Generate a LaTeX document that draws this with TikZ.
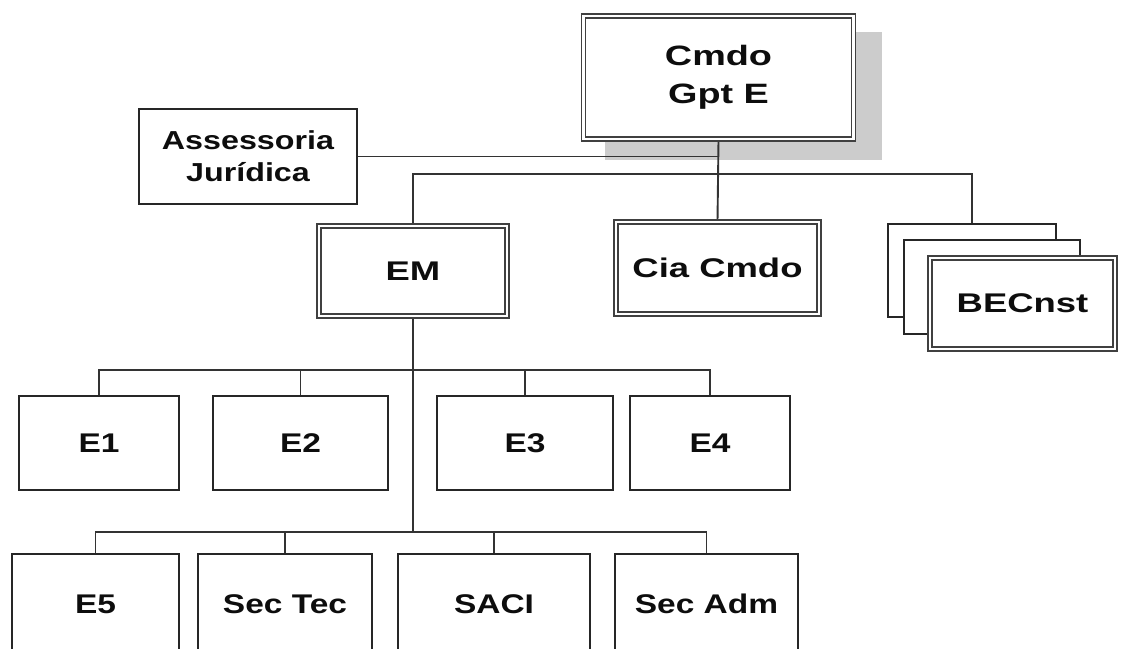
\documentclass[tikz,border=0pt]{standalone}
\usepackage{fontspec}
\setmainfont{Liberation Sans}
\newfontfamily\topf[FakeStretch=1.35]{Liberation Sans}
\newfontfamily\lowf[FakeStretch=1.24]{Liberation Sans}
\pgfdeclarelayer{shadowlayer}
\pgfdeclarelayer{linelayer}
\pgfsetlayers{shadowlayer,linelayer,main}
\begin{document}
\begin{tikzpicture}[x=1pt,y=-1pt,
  sbox/.style={draw=black!85, line width=2.2pt, fill=white, inner sep=0pt,
    font=\lowf\bfseries\fontsize{27}{32}\selectfont, text=black!95, align=center},
  dbox/.style={draw=black!75, line width=1.7pt, double=white, double distance=2.4pt,
    fill=white, inner sep=0pt, font=\topf\bfseries\fontsize{27}{38}\selectfont,
    text=black!95, align=center},
  conn/.style={draw=black!80, line width=1.9pt}]
\useasboundingbox (0,0) rectangle (1121,648);

% shadow of the top box
\begin{pgfonlayer}{shadowlayer}
\fill[white] (0,0) rectangle (1121,648);
\fill[black!20] (605,32) rectangle (882,160);
\end{pgfonlayer}

% boxes
\node[dbox, minimum width=270pt, minimum height=123pt, font=\topf\bfseries\fontsize{28}{38}\selectfont] (cmdo) at (718.5,77.5) {Cmdo\\Gpt E};
\node[sbox, minimum width=218pt, minimum height=95pt, font=\lowf\bfseries\fontsize{26}{32}\selectfont] (assess) at (248,156.5) {Assessoria\\Jurídica};
\node[dbox, minimum width=188pt, minimum height=90pt] (em) at (413,271) {EM};
\node[dbox, minimum width=203pt, minimum height=92pt] (cia) at (717.5,268) {Cia Cmdo};
\node[sbox, minimum width=168pt, minimum height=93pt] (becA) at (972,270.5) {};
\node[sbox, minimum width=176pt, minimum height=94pt] (becB) at (992,287) {};
\node[dbox, minimum width=185pt, minimum height=91pt] (becC) at (1022.5,303.5) {BECnst};

\node[sbox, minimum width=160pt, minimum height=94pt] (e1) at (99,443) {E1};
\node[sbox, minimum width=175pt, minimum height=94pt] (e2) at (300.5,443) {E2};
\node[sbox, minimum width=176pt, minimum height=94pt] (e3) at (525,443) {E3};
\node[sbox, minimum width=160pt, minimum height=94pt] (e4) at (710,443) {E4};

\node[sbox, minimum width=167pt, minimum height=100pt] (e5) at (95.5,604) {E5};
\node[sbox, minimum width=174pt, minimum height=100pt] (sectec) at (285,604) {Sec Tec};
\node[sbox, minimum width=192pt, minimum height=100pt] (saci) at (494,604) {SACI};
\node[sbox, minimum width=183pt, minimum height=100pt] (secadm) at (706.5,604) {Sec Adm};

\coordinate (bus1) at (0,174);
\coordinate (bus2) at (0,370);
\coordinate (bus3) at (0,532);

% connectors
\begin{pgfonlayer}{linelayer}
\draw[conn] (cmdo.south) -- (cia.north);
\draw[conn] (assess.east) -- (assess.east -| cmdo.south);
\draw[conn] (em.north) -- (em.north |- bus1) -- (becA.north |- bus1) -- (becA.north);
\draw[conn] (em.south) -- (em.south |- bus3);
\draw[conn] (e1.north) -- (e1.north |- bus2) -- (e4.north |- bus2) -- (e4.north);
\draw[conn] (e2.north) -- (e2.north |- bus2);
\draw[conn] (e3.north) -- (e3.north |- bus2);
\draw[conn] (e5.north) -- (e5.north |- bus3) -- (secadm.north |- bus3) -- (secadm.north);
\draw[conn] (sectec.north) -- (sectec.north |- bus3);
\draw[conn] (saci.north) -- (saci.north |- bus3);
\end{pgfonlayer}
\end{tikzpicture}
\end{document}
